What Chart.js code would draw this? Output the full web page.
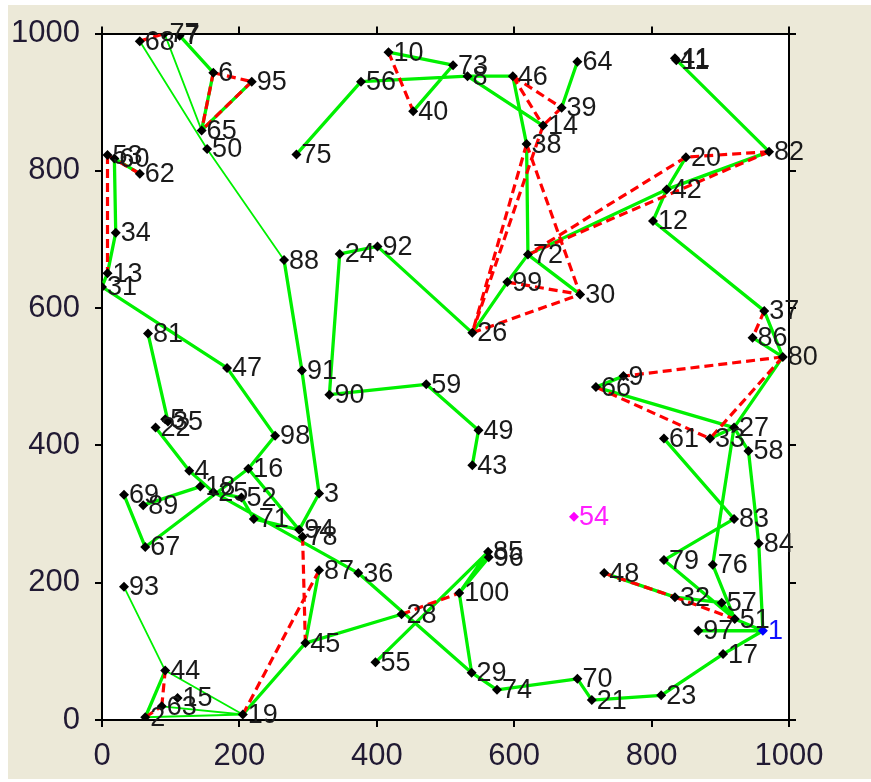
<!DOCTYPE html>
<html><head><meta charset="utf-8">
<script src="https://cdn.jsdelivr.net/npm/chart.js@4/dist/chart.umd.min.js"></script>
<style>
html,body{margin:0;padding:0;background:#fff;overflow:hidden;}
#c{position:absolute;left:0;top:0;}
</style></head><body>
<canvas id="c" width="871" height="782"></canvas>
<script>
// point ids 1..100 and their coordinates
const ids = Array.from({length:100},(_,i)=>i+1);
const xs = [962,63,316,127,92,162,113,532,759,417,836,802,8,642,110,213,904,143,205,850,
            713,78,814,346,162,539,920,436,538,696,0,834,885,20,96,373,964,618,669,453,
            834,822,539,92,296,598,182,731,548,153,921,203,8,687,398,377,902,941,472,18,
            818,55,87,692,145,719,63,55,32,692,221,620,511,575,283,889,91,292,818,991,
            67,971,920,956,562,947,316,265,60,331,291,401,32,287,218,563,868,252,590,520];
const ys = [130,4,330,363,438,943,997,938,501,973,961,727,651,866,32,366,96,340,8,820,
            29,426,36,679,332,564,426,154,69,620,631,179,410,710,435,214,596,839,892,887,
            964,773,371,72,112,938,513,214,422,832,147,324,823,296,84,930,171,392,489,818,
            410,796,20,959,859,485,252,989,328,60,293,678,954,44,824,226,1000,267,233,529,
            563,828,293,257,245,557,218,670,313,474,509,690,194,277,930,237,130,414,638,185];
const pointColors = ids.map(id => id===1 ? '#0000ff' : id===54 ? '#ff00ff' : '#000000');
const labelColors = ids.map(id => id===1 ? '#1010ff' : id===54 ? '#ff20ff' : '#1a1a1a');

// route edges (solid green), thin green edges, dashed red edges
const greenEdges = [[7,6],[6,65],[95,65],[88,91],[91,3],[3,94],[60,62],[60,34],[34,13],[13,31],[31,47],
  [47,98],[98,16],[69,67],[89,18],[81,35],[22,4],[4,25],[16,94],[16,67],[25,52],[25,36],[36,29],[71,94],[52,71],
  [87,45],[45,28],[45,19],[44,2],[29,74],[74,70],[70,21],[21,23],[23,17],[17,1],[97,1],[84,1],[58,84],
  [51,1],[57,51],[79,51],[76,51],[83,79],[61,83],[27,76],[80,27],[37,80],[86,80],[12,37],[12,42],
  [20,42],[42,82],[41,82],[42,72],[38,72],[72,99],[99,26],[72,30],[92,26],[24,92],[24,90],[90,59],
  [59,49],[49,43],[66,9],[66,27],[48,32],[32,57],[75,56],[56,8],[10,73],[73,40],[8,46],[8,14],
  [46,38],[64,39],[55,85],[96,100],[85,100],[100,29],[33,27],[27,58]];
const thinGreenEdges = [[68,50],[77,65],[50,88],[93,44],[44,19],[2,19],[63,19]];
const redEdges = [[68,77],[6,65],[95,65],[6,95],[53,13],[53,62],[10,40],[46,39],[46,14],[39,14],
  [38,26],[14,26],[38,30],[26,30],[99,30],[20,72],[82,72],[82,20],[37,86],[80,9],[80,33],[66,33],
  [48,32],[32,51],[28,100],[78,45],[19,87],[2,63],[63,44]];
const xTicks = [0,200,400,600,800,1000];
const yTicks = [0,200,400,600,800,1000];

function segs(edges){
  const out=[];
  edges.forEach(([a,b])=>{
    const i=ids.indexOf(a), j=ids.indexOf(b);
    out.push({x:xs[i],y:ys[i]},{x:xs[j],y:ys[j]},{x:NaN,y:NaN});
  });
  return out;
}

const bgPlugin = {
  id:'bg',
  beforeDraw(chart){
    const ctx=chart.ctx, a=chart.chartArea;
    ctx.save();
    ctx.fillStyle='#ffffff'; ctx.fillRect(0,0,chart.width,chart.height);
    ctx.fillStyle='#ece9d8'; ctx.fillRect(8,5,chart.width-8,774);
    ctx.fillStyle='#ffffff'; ctx.fillRect(a.left,a.top,a.right-a.left,a.bottom-a.top);
    ctx.restore();
  }
};
const labelPlugin = {
  id:'labels',
  afterDatasetsDraw(chart){
    const ctx=chart.ctx, xS=chart.scales.x, yS=chart.scales.y;
    ctx.save();
    ctx.font='27px "Liberation Sans", Arial, sans-serif';
    ctx.textBaseline='middle'; ctx.textAlign='left';
    ids.forEach((id,i)=>{
      ctx.fillStyle=labelColors[i];
      ctx.fillText(String(id), xS.getPixelForValue(xs[i])+5, yS.getPixelForValue(ys[i])+1);
    });
    ctx.restore();
  }
};

const tickFont = {family:'"Liberation Sans", Arial, sans-serif', size:31};
const gridOpt = {drawOnChartArea:false, drawTicks:true, tickLength:7, color:'#000', tickColor:'#000', lineWidth:2, tickWidth:2};
const borderOpt = {display:true, color:'#000', width:2};
const fmt = v => String(v);

new Chart(document.getElementById('c'), {
  type:'scatter',
  data:{datasets:[
    {data: ids.map((id,i)=>({x:xs[i],y:ys[i]})), showLine:false, pointStyle:'rectRot', pointRadius:5,
     pointBackgroundColor:pointColors, pointBorderColor:pointColors, pointBorderWidth:0, order:0},
    {data: segs(redEdges), showLine:true, spanGaps:false, pointRadius:0, borderColor:'#ff0000',
     borderWidth:3.2, borderDash:[9,5], order:1},
    {data: segs(greenEdges), showLine:true, spanGaps:false, pointRadius:0, borderColor:'#00f000',
     borderWidth:3.3, order:2},
    {data: segs(thinGreenEdges), showLine:true, spanGaps:false, pointRadius:0, borderColor:'#00f000',
     borderWidth:1.8, order:3}
  ]},
  options:{
    responsive:false, animation:false, devicePixelRatio:1,
    events:[],
    layout:{padding:0},
    plugins:{legend:{display:false}, tooltip:{enabled:false}, title:{display:false}},
    scales:{
      x:{type:'linear', position:'bottom', min:0, max:1000,
         afterBuildTicks(s){ s.ticks = xTicks.map(v=>({value:v})); },
         afterFit(s){ s.height = 62; },
         ticks:{font:tickFont, color:'#211a33', padding:11, maxRotation:0, callback:fmt},
         grid:gridOpt, border:borderOpt},
      x2:{type:'linear', position:'top', min:0, max:1000,
         afterBuildTicks(s){ s.ticks = xTicks.map(v=>({value:v})); },
         afterFit(s){ s.height = 33; },
         ticks:{display:false}, grid:gridOpt, border:borderOpt},
      y:{type:'linear', position:'left', min:0, max:1000,
         afterBuildTicks(s){ s.ticks = yTicks.map(v=>({value:v})); },
         afterFit(s){ s.width = 102; },
         ticks:{font:tickFont, color:'#211a33', padding:15, callback:fmt},
         grid:gridOpt, border:borderOpt},
      y2:{type:'linear', position:'right', min:0, max:1000,
         afterBuildTicks(s){ s.ticks = yTicks.map(v=>({value:v})); },
         afterFit(s){ s.width = 82; },
         ticks:{display:false}, grid:gridOpt, border:borderOpt}
    }
  },
  plugins:[bgPlugin, labelPlugin]
});
</script>
</body></html>
